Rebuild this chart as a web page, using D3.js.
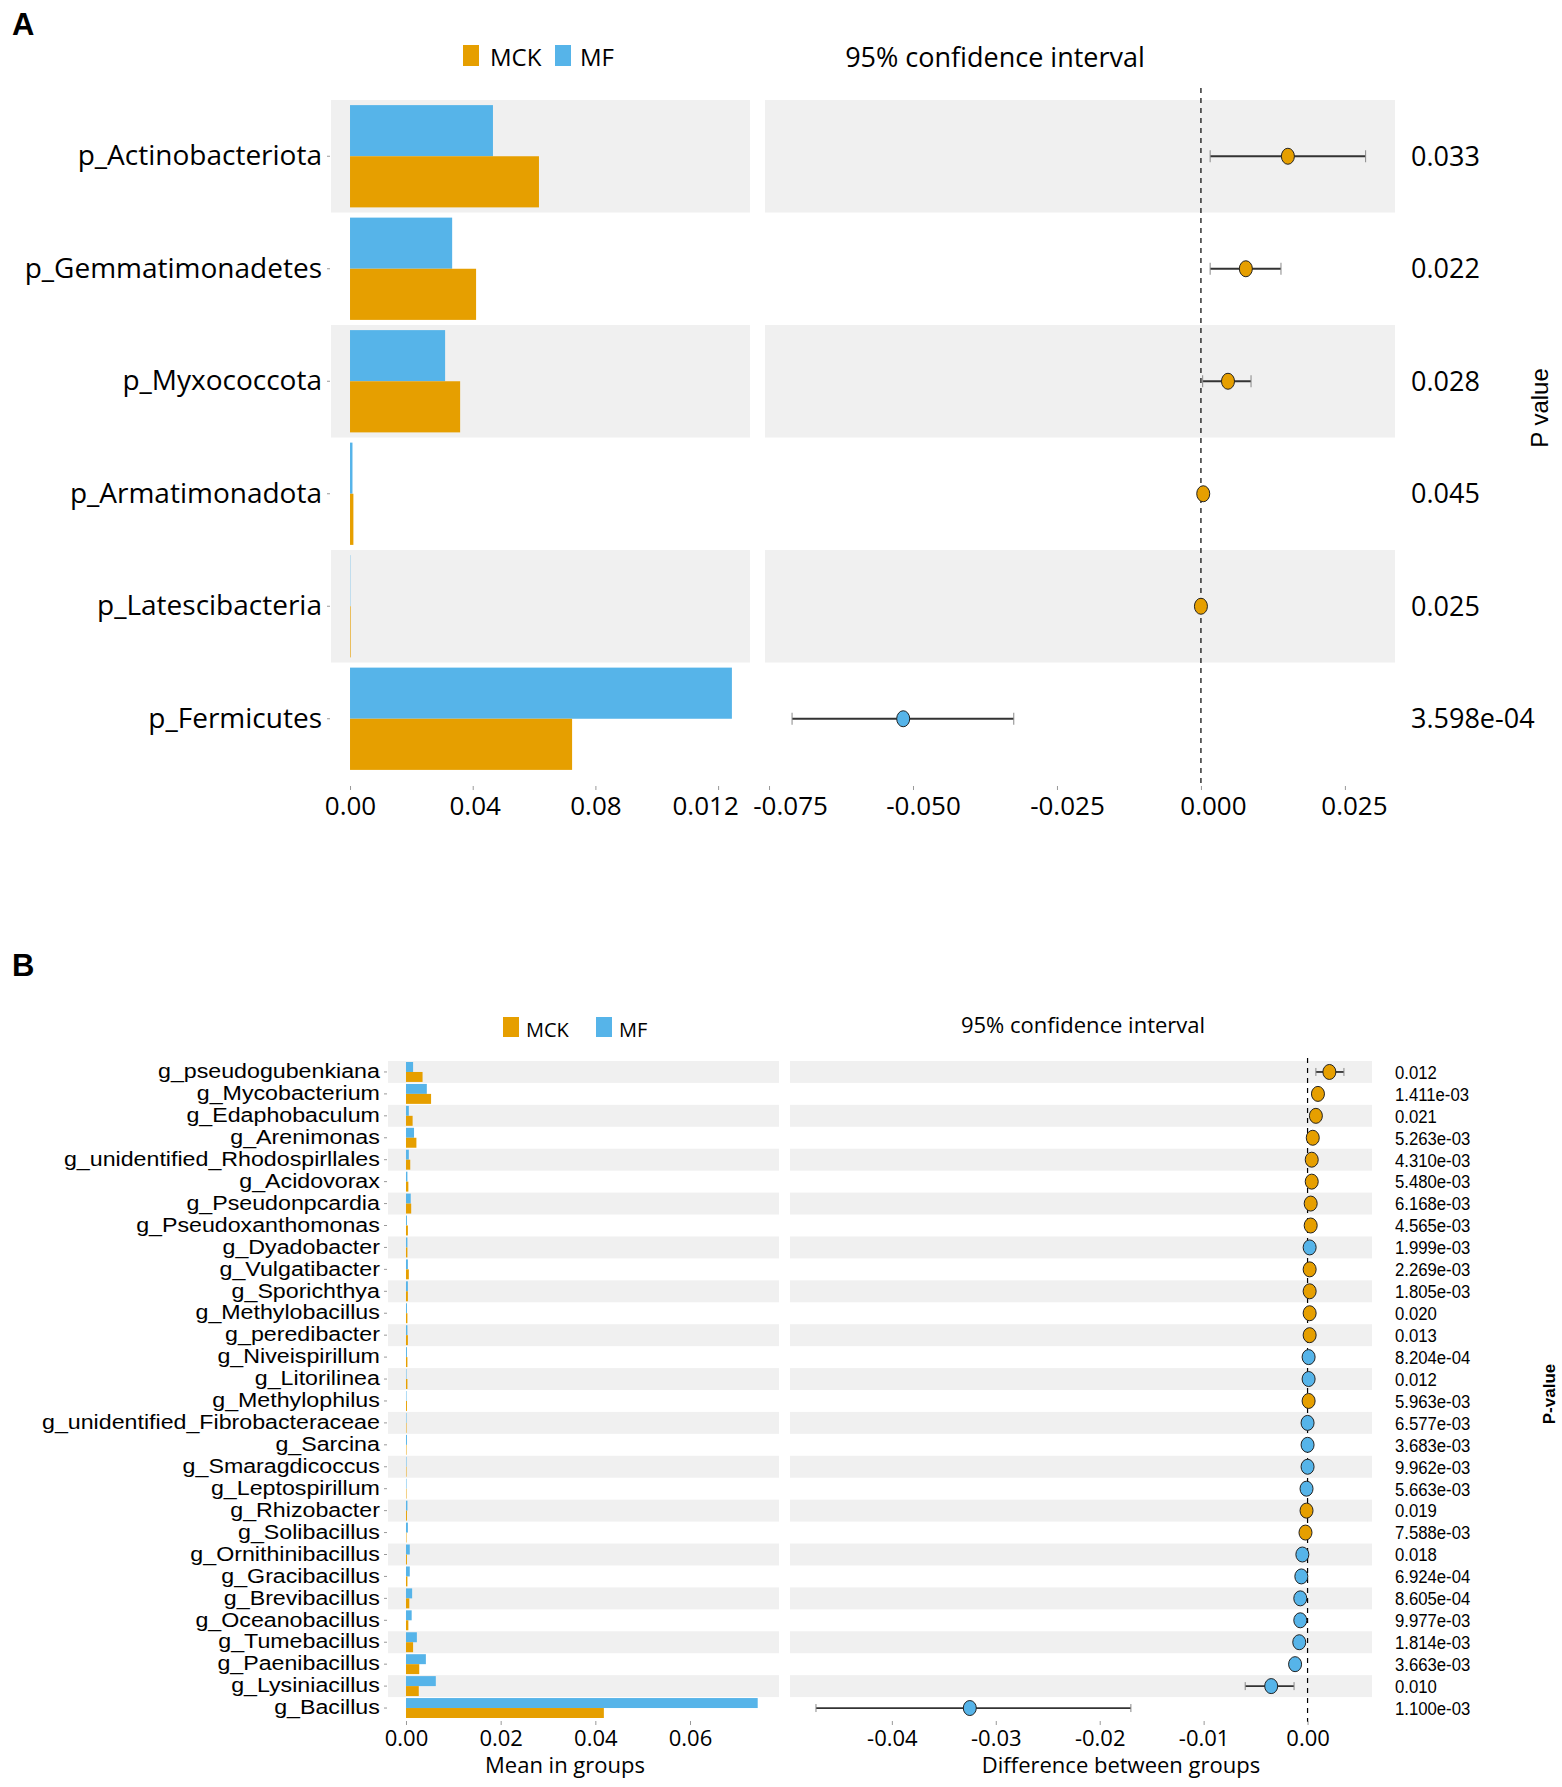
<!DOCTYPE html>
<html>
<head>
<meta charset="utf-8">
<script src="https://cdn.jsdelivr.net/npm/d3@7"></script>
<style>
  body { margin: 0; background: #fff; }
  svg text { font-family: "Open Sans", sans-serif; fill: #000; }
</style>
</head>
<body>
<svg id="chart" width="1562" height="1787"></svg>
<script>
// ---- Panel A data (phylum level) ----
const phylumNames = ["p_Actinobacteriota", "p_Gemmatimonadetes", "p_Myxococcota", "p_Armatimonadota", "p_Latescibacteria", "p_Fermicutes"];
const phylumMCK = [0.0616, 0.0411, 0.0359, 0.0011, 0.0002, 0.0724];
const phylumMF = [0.0466, 0.0333, 0.0310, 0.0008, 0.0001, 0.1245];
const phylumDiff = [0.0151, 0.0078, 0.0047, 0.0004, 0.0000, -0.0517];
const phylumLow = [0.0016, 0.0016, 0.0003, 0.0001, -0.0001, -0.0710];
const phylumHigh = [0.0286, 0.0139, 0.0087, 0.0007, 0.0001, -0.0325];
const phylumP = ["0.033", "0.022", "0.028", "0.045", "0.025", "3.598e-04"];
const phylumGroup = ["MCK", "MCK", "MCK", "MCK", "MCK", "MF"];

// ---- Panel B data (genus level) ----
const genusNames = ["g_pseudogubenkiana", "g_Mycobacterium", "g_Edaphobaculum", "g_Arenimonas",
  "g_unidentified_Rhodospirllales", "g_Acidovorax", "g_Pseudonpcardia", "g_Pseudoxanthomonas",
  "g_Dyadobacter", "g_Vulgatibacter", "g_Sporichthya", "g_Methylobacillus", "g_peredibacter",
  "g_Niveispirillum", "g_Litorilinea", "g_Methylophilus", "g_unidentified_Fibrobacteraceae",
  "g_Sarcina", "g_Smaragdicoccus", "g_Leptospirillum", "g_Rhizobacter", "g_Solibacillus",
  "g_Ornithinibacillus", "g_Gracibacillus", "g_Brevibacillus", "g_Oceanobacillus",
  "g_Tumebacillus", "g_Paenibacillus", "g_Lysiniacillus", "g_Bacillus"];
const genusMCK = [0.0035, 0.0053, 0.0014, 0.0022, 0.0009, 0.0005, 0.0011, 0.0004, 0.0003, 0.0006,
  0.0004, 0.0003, 0.0004, 0.0003, 0.0003, 0.0002, 0.0001, 0.0001, 0.0001, 0.0001,
  0.0002, 0.0001, 0.0002, 0.0003, 0.0007, 0.0005, 0.0015, 0.0028, 0.0027, 0.0418];
const genusMF = [0.0015, 0.0044, 0.0006, 0.0017, 0.0006, 0.0003, 0.0010, 0.0002, 0.0003, 0.0004,
  0.0004, 0.0002, 0.0003, 0.0002, 0.0001, 0.0001, 0.0001, 0.0002, 0.0001, 0.0001,
  0.0003, 0.0004, 0.0008, 0.0008, 0.0013, 0.0012, 0.0023, 0.0042, 0.0063, 0.0743];
const genusDiff = [0.0021, 0.0010, 0.0008, 0.0005, 0.0004, 0.0004, 0.0003, 0.0003, 0.0002, 0.0002,
  0.0002, 0.0002, 0.0002, 0.0001, 0.0001, 0.0001, 0.0000, 0.0000, 0.0000, -0.0001,
  -0.0001, -0.0002, -0.0005, -0.0006, -0.0007, -0.0007, -0.0008, -0.0012, -0.0035, -0.0325];
const genusLow = [0.0008, 0.0006, 0.0005, 0.0003, 0.0002, 0.0002, 0.0002, 0.0001, 0.0001, 0.0001,
  0.0001, 0.0001, 0.0001, 0.0000, 0.0000, 0.0000, -0.0001, -0.0001, -0.0001, -0.0002,
  -0.0002, -0.0003, -0.0007, -0.0008, -0.0010, -0.0010, -0.0011, -0.0015, -0.0060, -0.0473];
const genusHigh = [0.0035, 0.0014, 0.0011, 0.0007, 0.0006, 0.0006, 0.0004, 0.0004, 0.0003, 0.0003,
  0.0003, 0.0003, 0.0003, 0.0002, 0.0002, 0.0002, 0.0001, 0.0001, 0.0001, 0.0000,
  0.0000, -0.0001, -0.0003, -0.0004, -0.0004, -0.0004, -0.0005, -0.0009, -0.0013, -0.0170];
const genusP = ["0.012", "1.411e-03", "0.021", "5.263e-03", "4.310e-03", "5.480e-03", "6.168e-03",
  "4.565e-03", "1.999e-03", "2.269e-03", "1.805e-03", "0.020", "0.013", "8.204e-04", "0.012",
  "5.963e-03", "6.577e-03", "3.683e-03", "9.962e-03", "5.663e-03", "0.019", "7.588e-03", "0.018",
  "6.924e-04", "8.605e-04", "9.977e-03", "1.814e-03", "3.663e-03", "0.010", "1.100e-03"];
const genusGroup = ["MCK", "MCK", "MCK", "MCK", "MCK", "MCK", "MCK", "MCK", "MF", "MCK",
  "MCK", "MCK", "MCK", "MF", "MF", "MCK", "MF", "MF", "MF", "MF",
  "MCK", "MCK", "MF", "MF", "MF", "MF", "MF", "MF", "MF", "MF"];

// ---- Tick values and labels ----
const aBarTicks = [0, 0.04, 0.08, 0.12];
const aBarTickLabels = ["0.00", "0.04", "0.08", "0.012"];
const aCiTicks = [-0.075, -0.05, -0.025, 0, 0.025];
const aCiTickLabels = ["-0.075", "-0.050", "-0.025", "0.000", "0.025"];
const bBarTicks = [0, 0.02, 0.04, 0.06];
const bBarTickLabels = ["0.00", "0.02", "0.04", "0.06"];
const bCiTicks = [-0.04, -0.03, -0.02, -0.01, 0];
const bCiTickLabels = ["-0.04", "-0.03", "-0.02", "-0.01", "0.00"];

const groupColor = { MCK: "#E69F00", MF: "#56B4E9" };

const svg = d3.select("#chart");

// Draws one two-part panel (bars on the left, confidence interval on the right)
function drawPanel(cfg) {
  const rows = cfg.names.map((name, i) => ({
    name, i,
    MCK: cfg.mck[i], MF: cfg.mf[i],
    diff: cfg.diff[i], low: cfg.low[i], high: cfg.high[i],
    p: cfg.p[i], group: cfg.group[i],
  }));

  const y = d3.scaleBand().domain(cfg.names).range(cfg.yRange);
  const ySub = d3.scaleBand().domain(["MF", "MCK"]).range([0, y.bandwidth()]).paddingOuter(0.1);
  const xBar = d3.scaleLinear().domain(cfg.barDomain).range(cfg.barRange);
  const xCi = d3.scaleLinear().domain(cfg.ciDomain).range(cfg.ciRange);

  const g = svg.append("g");

  // zebra stripes
  const striped = rows.filter((d) => d.i % 2 === 0);
  g.selectAll(".stripeL").data(striped).join("rect")
    .attr("x", cfg.barRange[0]).attr("width", cfg.barRange[1] - cfg.barRange[0])
    .attr("y", (d) => y(d.name)).attr("height", y.bandwidth())
    .attr("fill", "#f0f0f0");
  g.selectAll(".stripeR").data(striped).join("rect")
    .attr("x", cfg.ciRange[0]).attr("width", cfg.ciRange[1] - cfg.ciRange[0])
    .attr("y", (d) => y(d.name)).attr("height", y.bandwidth())
    .attr("fill", "#f0f0f0");

  // grouped bars
  const barData = rows.flatMap((d) => ["MF", "MCK"].map((k) => ({ name: d.name, key: k, value: d[k] })));
  g.selectAll(".bar").data(barData).join("rect")
    .attr("x", xBar(0))
    .attr("y", (d) => y(d.name) + ySub(d.key))
    .attr("width", (d) => Math.max(0, xBar(d.value) - xBar(0)))
    .attr("height", ySub.bandwidth())
    .attr("fill", (d) => groupColor[d.key]);

  // zero reference line
  g.append("line")
    .attr("x1", xCi(0)).attr("x2", xCi(0))
    .attr("y1", cfg.dashTop).attr("y2", cfg.dashBottom)
    .attr("stroke", "#000").attr("stroke-width", 1.2)
    .attr("stroke-dasharray", "5,5");

  // error bars
  const cy = (d) => y(d.name) + y.bandwidth() / 2;
  g.selectAll(".err").data(rows).join("line")
    .attr("x1", (d) => xCi(d.low)).attr("x2", (d) => xCi(d.high))
    .attr("y1", cy).attr("y2", cy)
    .attr("stroke", "#333").attr("stroke-width", 1.8);
  ["low", "high"].forEach((k) => {
    g.selectAll(".cap-" + k).data(rows).join("line")
      .attr("x1", (d) => xCi(d[k])).attr("x2", (d) => xCi(d[k]))
      .attr("y1", (d) => cy(d) - cfg.capH).attr("y2", (d) => cy(d) + cfg.capH)
      .attr("stroke", "#888").attr("stroke-width", 1);
  });

  // points
  g.selectAll(".pt").data(rows).join("ellipse")
    .attr("cx", (d) => xCi(d.diff)).attr("cy", cy)
    .attr("rx", cfg.rx).attr("ry", cfg.ry)
    .attr("fill", (d) => groupColor[d.group])
    .attr("stroke", "#222").attr("stroke-width", 1);

  // p values
  g.selectAll(".pval").data(rows).join("text")
    .attr("transform", (d) => `translate(${cfg.pX},${cy(d)}) scale(${cfg.pScale},1)`)
    .attr("dy", "0.36em")
    .style("font-family", cfg.pFont)
    .style("font-size", cfg.pSize + "px")
    .text((d) => d.p);

  // y axis with category labels
  const yAxis = g.append("g")
    .attr("transform", `translate(${cfg.yAxisX},0)`)
    .call(d3.axisLeft(y).tickSize(3).tickPadding(cfg.yPad));
  yAxis.select(".domain").remove();
  yAxis.selectAll("line").attr("stroke", "#999");
  yAxis.selectAll("text")
    .attr("transform", `scale(${cfg.labelScale},1)`)
    .style("font-family", cfg.labelFont)
    .style("font-size", cfg.labelSize + "px");

  // bottom axes
  const addAxis = (scale, ticks, labels, shifts) => {
    const ax = g.append("g")
      .attr("transform", `translate(0,${cfg.axisY})`)
      .call(d3.axisBottom(scale).tickValues(ticks)
        .tickFormat((v, i) => labels[i]).tickSize(4).tickPadding(cfg.tickPad));
    ax.select(".domain").remove();
    ax.selectAll("line").attr("stroke", "#999");
    ax.selectAll("text")
      .attr("dx", (d, i) => shifts[i])
      .style("font-family", '"Open Sans", sans-serif')
      .style("font-size", cfg.tickSize + "px");
  };
  addAxis(xBar, cfg.barTicks, cfg.barTickLabels, cfg.barShift);
  addAxis(xCi, cfg.ciTicks, cfg.ciTickLabels, cfg.ciShift);
}

// ---- Panel A ----
drawPanel({
  names: phylumNames, mck: phylumMCK, mf: phylumMF, diff: phylumDiff,
  low: phylumLow, high: phylumHigh, p: phylumP, group: phylumGroup,
  yRange: [100, 775],
  barDomain: [-0.0062, 0.1304], barRange: [331, 750],
  ciDomain: [-0.0757, 0.0337], ciRange: [765, 1395],
  dashTop: 88, dashBottom: 788,
  capH: 6, rx: 6.5, ry: 8,
  pX: 1411, pScale: 1, pFont: '"Open Sans", sans-serif', pSize: 27,
  yAxisX: 330, yPad: 5, labelSize: 28, labelScale: 1, labelFont: '"Open Sans", sans-serif',
  axisY: 786, tickPad: 7, tickSize: 26,
  barTicks: aBarTicks, barTickLabels: aBarTickLabels, barShift: [0, 2, 0, -13],
  ciTicks: aCiTicks, ciTickLabels: aCiTickLabels, ciShift: [21, 10, 10, 12, 9],
});

// ---- Panel B ----
drawPanel({
  names: genusNames, mck: genusMCK, mf: genusMF, diff: genusDiff,
  low: genusLow, high: genusHigh, p: genusP, group: genusGroup,
  yRange: [1061, 1719],
  barDomain: [-0.0038, 0.0788], barRange: [388, 779],
  ciDomain: [-0.0498, 0.0062], ciRange: [790, 1372],
  dashTop: 1058, dashBottom: 1722,
  capH: 4, rx: 6.5, ry: 7.5,
  pX: 1395, pScale: 0.88, pFont: '"Liberation Sans", Arial, sans-serif', pSize: 19,
  yAxisX: 387, yPad: 3, labelSize: 19.5, labelScale: 1.19, labelFont: '"Liberation Sans", Arial, sans-serif',
  axisY: 1721, tickPad: 5, tickSize: 22,
  barTicks: bBarTicks, barTickLabels: bBarTickLabels, barShift: [0, 0, 0, 0],
  ciTicks: bCiTicks, ciTickLabels: bCiTickLabels, ciShift: [0, 0, 0, 0, 0],
});

// ---- Titles, legends, panel letters ----
const legend = (x, y, w, h, textX, size, key) => {
  svg.append("rect").attr("x", x).attr("y", y).attr("width", w).attr("height", h).attr("fill", groupColor[key]);
  svg.append("text").attr("x", textX).attr("y", y + h).style("font-size", size + "px").text(key);
};
legend(463, 45, 16, 21, 490, 24, "MCK");
legend(555, 45, 16, 21, 580, 24, "MF");
legend(503, 1017, 16, 20, 526, 20, "MCK");
legend(596, 1017, 16, 20, 619, 20, "MF");

svg.append("text").attr("x", 995).attr("y", 67).attr("text-anchor", "middle")
  .style("font-size", "27px").text("95% confidence interval");
svg.append("text").attr("x", 1083).attr("y", 1033).attr("text-anchor", "middle")
  .style("font-size", "22px").text("95% confidence interval");

svg.append("text").attr("x", 565).attr("y", 1773).attr("text-anchor", "middle")
  .style("font-size", "22px").text("Mean in groups");
svg.append("text").attr("x", 1121).attr("y", 1773).attr("text-anchor", "middle")
  .style("font-size", "22px").text("Difference between groups");

svg.append("text").attr("transform", "translate(1548,408) rotate(-90)").attr("text-anchor", "middle")
  .style("font-family", '"Liberation Sans", Arial, sans-serif').style("font-size", "24px").text("P value");
svg.append("text").attr("transform", "translate(1555,1394) rotate(-90)").attr("text-anchor", "middle")
  .style("font-family", '"Liberation Sans", Arial, sans-serif').style("font-weight", "bold")
  .style("font-size", "17px").text("P-value");

svg.append("text").attr("x", 12).attr("y", 35)
  .style("font-family", '"Liberation Sans", Arial, sans-serif').style("font-weight", "bold")
  .style("font-size", "31px").text("A");
svg.append("text").attr("x", 12).attr("y", 976)
  .style("font-family", '"Liberation Sans", Arial, sans-serif').style("font-weight", "bold")
  .style("font-size", "31px").text("B");
</script>
</body>
</html>
